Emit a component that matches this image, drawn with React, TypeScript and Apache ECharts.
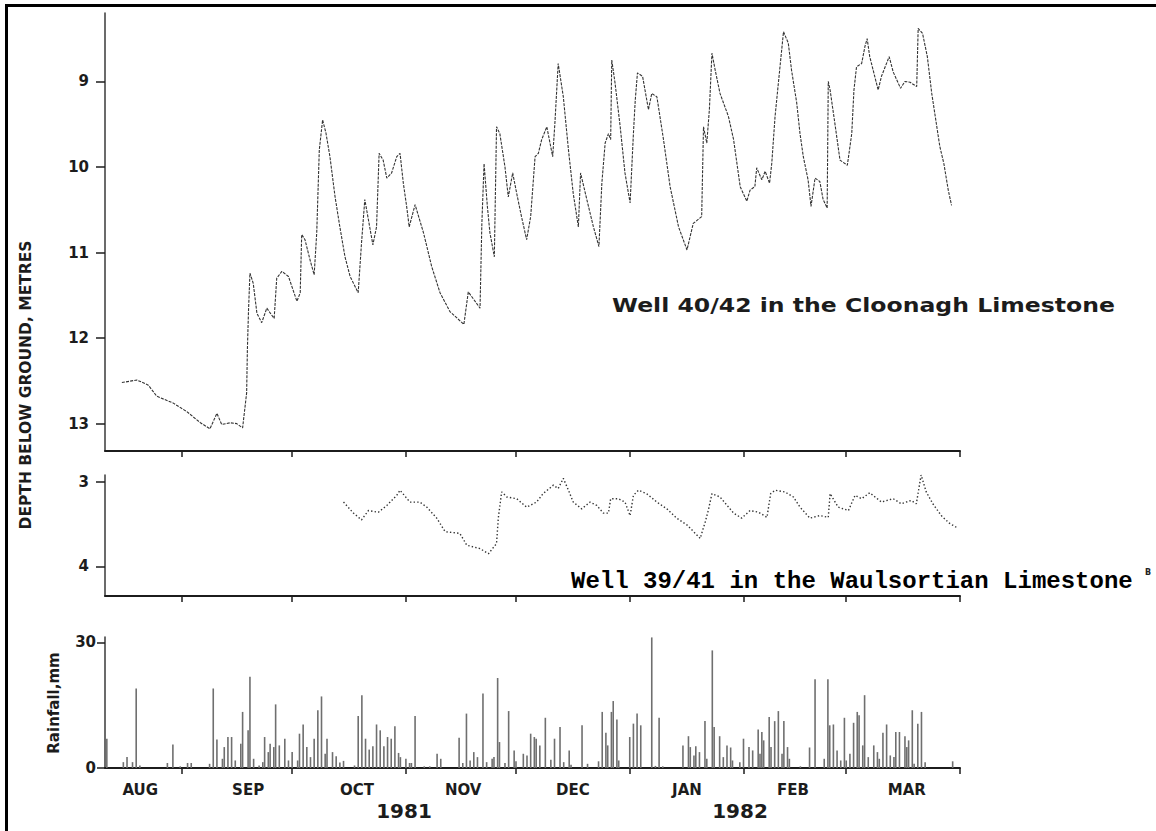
import React, { useEffect, useRef } from "react";
import * as echarts from "echarts";

// x values are days counted from 1 August 1981 (day 31 = 1 Sep 1981, day 153 = 1 Jan 1982)
const monthTicks = [31, 61, 92, 122, 153, 184, 212, 243];
const monthLabelDays = [19.6, 49, 78.7, 107.6, 137.5, 168.6, 197.5, 228.5];
const monthNames = ["AUG", "SEP", "OCT", "NOV", "DEC", "JAN", "FEB", "MAR"];
const yearNames = ["1981", "1982"];

const depthTicksTop = [9, 10, 11, 12, 13];
const depthTicksMid = [3, 4];
const rainTicks = [0, 30];

// Well 40/42 in the Cloonagh Limestone (depth below ground, m)
const well40Days = [
  14.6, 18.7, 21.8, 24.1, 28.6, 32.3, 36.0, 38.6, 40.5, 41.8, 44.1, 45.9, 47.5, 48.6, 48.8, 49.1, 49.5,
  50.4, 51.4, 52.7, 54.1, 55.4, 56.1, 56.8, 58.2, 60.0, 62.3, 63.2, 63.6, 64.5, 65.9, 67.0, 67.7, 68.4,
  69.3, 70.2, 71.3, 72.7, 74.0, 75.4, 76.8, 79.0, 79.9, 80.8, 81.8, 83.0, 84.0, 84.7, 85.8, 86.8, 88.1,
  89.5, 90.4, 91.3, 92.2, 92.9, 94.5, 96.8, 99.0, 101.3, 104.0, 107.8, 109.0, 112.2, 112.7, 113.3, 114.2,
  114.9, 116.1, 116.7, 117.6, 119.0, 119.9, 121.1, 122.2, 123.5, 124.9, 126.0, 127.2, 128.1, 129.0, 130.4,
  132.0, 132.6, 133.5, 134.9, 136.3, 137.6, 139.0, 139.6, 141.3, 143.1, 144.6, 145.4, 146.3, 147.2, 147.8,
  148.1, 149.0, 150.4, 151.7, 153.1, 154.0, 154.5, 155.1, 156.5, 158.1, 159.0, 160.4, 162.2, 164.0, 166.3,
  168.6, 170.3, 172.6, 173.1, 174.0, 174.7, 175.4, 176.3, 177.6, 179.9, 181.3, 183.1, 184.9, 185.8, 187.1,
  187.6, 189.0, 189.9, 191.1, 191.7, 192.6, 193.5, 194.9, 196.2, 197.1, 198.5, 199.4, 200.3, 201.6, 202.4,
  203.5, 204.8, 205.7, 206.8, 207.1, 207.6, 208.9, 210.3, 212.3, 213.5, 214.1, 214.8, 216.2, 217.1, 217.7,
  218.4, 220.7, 221.6, 223.7, 224.8, 226.8, 228.0, 229.4, 231.2, 231.6, 232.8, 234.1, 235.3, 236.4, 237.5,
  238.6, 239.8, 240.7,
];
const well40Depth = [
  12.52, 12.49, 12.55, 12.68, 12.76, 12.86, 12.99, 13.06, 12.88, 13.01, 12.99, 13.0, 13.05, 12.64, 12.14, 11.69, 11.24,
  11.36, 11.71, 11.82, 11.65, 11.73, 11.77, 11.3, 11.22, 11.28, 11.57, 11.47, 10.79, 10.85, 11.09, 11.26, 10.77, 9.8,
  9.45, 9.6, 9.88, 10.35, 10.7, 11.05, 11.28, 11.47, 10.89, 10.38, 10.62, 10.91, 10.7, 9.84, 9.92, 10.13, 10.07,
  9.88, 9.84, 10.19, 10.46, 10.7, 10.44, 10.77, 11.16, 11.47, 11.69, 11.84, 11.46, 11.65, 10.66, 9.96, 10.46,
  10.77, 11.05, 9.53, 9.61, 10.0, 10.35, 10.07, 10.31, 10.58, 10.85, 10.58, 9.88, 9.84, 9.68, 9.53,
  9.88, 9.49, 8.79, 9.18, 9.8, 10.31, 10.7, 10.07, 10.38, 10.7, 10.93, 10.19, 9.72, 9.61, 9.68,
  8.75, 9.02, 9.53, 10.07, 10.42, 9.61, 9.22, 8.9, 8.94, 9.33, 9.14, 9.18, 9.68, 10.23, 10.7,
  10.97, 10.66, 10.58, 9.53, 9.72, 9.33, 8.67, 8.87, 9.14, 9.41, 9.68, 10.23, 10.4, 10.27, 10.23,
  10.01, 10.15, 10.05, 10.19, 9.96, 9.41, 9.02, 8.42, 8.55, 8.87, 9.25, 9.61, 9.88, 10.15, 10.46,
  10.13, 10.17, 10.38, 10.48, 9.0, 9.1, 9.49, 9.92, 9.98, 9.61, 9.1, 8.83, 8.79, 8.59, 8.5,
  8.71, 9.1, 8.94, 8.71, 8.89, 9.08, 9.0, 9.01, 9.06, 8.38, 8.44, 8.71, 9.14, 9.45, 9.76,
  9.96, 10.27, 10.45,
];

// Well 39/41 in the Waulsortian Limestone (depth below ground, m)
const well39Days = [
  75.0, 77.7, 79.9, 81.8, 84.5, 86.8, 89.5, 90.4, 93.1, 95.8, 97.7, 100.4, 102.7, 106.7, 108.6, 112.2, 114.5,
  116.7, 117.2, 118.1, 119.5, 122.2, 124.9, 127.6, 129.4, 132.2, 133.5, 134.9, 136.3, 137.6, 139.9, 142.2,
  144.0, 145.8, 147.2, 147.8, 149.9, 151.7, 153.1, 154.0, 155.4, 157.6, 160.4, 163.1, 165.8, 168.6, 172.2,
  173.6, 174.4, 175.4, 177.6, 181.3, 183.5, 185.8, 188.1, 190.4, 191.4, 192.6, 195.3, 197.6, 199.4, 202.1,
  204.8, 207.1, 207.6, 209.8, 212.6, 214.4, 216.2, 218.4, 221.6, 224.8, 227.0, 229.7, 231.1, 232.4, 233.8,
  235.6, 237.9, 240.1, 242.1,
];
const well39Depth = [
  3.24, 3.37, 3.45, 3.34, 3.36, 3.28, 3.16, 3.1, 3.24, 3.24, 3.3, 3.43, 3.59, 3.61, 3.75, 3.79, 3.85,
  3.73, 3.42, 3.12, 3.18, 3.2, 3.3, 3.24, 3.14, 3.04, 3.08, 2.96, 3.1, 3.24, 3.32, 3.24,
  3.28, 3.37, 3.37, 3.2, 3.2, 3.24, 3.4, 3.16, 3.1, 3.14, 3.24, 3.32, 3.43, 3.51, 3.67,
  3.47, 3.34, 3.14, 3.18, 3.37, 3.43, 3.34, 3.36, 3.42, 3.14, 3.1, 3.12, 3.18, 3.3, 3.43,
  3.4, 3.42, 3.14, 3.3, 3.34, 3.16, 3.2, 3.13, 3.24, 3.2, 3.26, 3.22, 3.26, 2.92, 3.12,
  3.26, 3.4, 3.49, 3.54,
];

// Daily rainfall, mm
const rainDays = [
  10.5, 15, 16, 17.5, 18.5, 19.5, 27, 28.5, 30.5, 32.5, 33.5, 38.5, 39.5, 40.5, 42, 42.5, 43.5, 44.5, 45.5,
  47, 47.5, 49, 49.5, 50.5, 52, 53, 53.5, 54.5, 55, 56, 56.5, 57.5, 59, 60, 61, 62.5, 63, 64, 65, 66, 67, 68,
  69, 70, 70.5, 72, 73, 74, 75, 78, 79, 80, 81, 82, 83, 84, 85, 86, 87, 88, 89, 90, 90.5, 92, 93, 93.5, 94.5,
  97, 98.5, 100.5, 101.5, 106.5, 107.5, 108.5, 109.5, 110.5, 111.5, 113, 114, 115.5, 116, 117, 117.5, 119,
  120, 121.5, 122, 124, 125, 126, 127, 127.5, 128.5, 130, 131.5, 132.5, 134, 135, 136.5, 137, 140, 141.5,
  144.5, 145.5, 146.5, 147, 148, 148.5, 149.5, 150, 153, 154, 155, 156, 159, 160, 161, 162, 167.5, 169,
  169.5, 170.5, 171, 172, 173.5, 174, 175.5, 176, 177.5, 178.5, 179.5, 180.5, 181, 183, 184, 185.5, 186.5,
  188, 188.5, 189, 189.5, 191, 191.5, 192.5, 193.5, 194.5, 195, 196, 196.5, 199.5, 202, 203.5, 206, 207,
  207.5, 208.5, 209.5, 210.5, 211.5, 212, 213, 214, 215, 215.5, 216.5, 217, 218, 219.5, 220.5, 221, 222,
  223, 224, 225, 225.5, 226.5, 228, 228.5, 229, 230, 230.5, 231.5, 232.5, 233.5, 241,
];
const rainMm = [
  7, 1.4, 2.6, 1.4, 19, 0.6, 1.2, 5.6, 0.4, 1.2, 1.2, 1, 19, 6.8, 2.2, 5, 7.4, 7.4, 1.8,
  5.8, 13.4, 9, 21.8, 2.2, 0.6, 1.4, 7.4, 3.8, 5.8, 5, 15.2, 5.4, 7, 1.8, 3.8, 1.8, 8.2, 10.4, 5, 2.6, 7, 13.8,
  17.1, 3.4, 7, 3.8, 2.8, 1.3, 1.7, 0.6, 12.4, 17.4, 7, 4.4, 5.2, 10.4, 9, 5.2, 7.4, 7, 10, 3.6, 2.6, 2.2, 1.2, 1.2, 12.4,
  0.4, 0.4, 3.4, 2.2, 7.2, 1.2, 13, 1.8, 3.8, 2.6, 17.8, 1.4, 2.2, 2.6, 21.5, 6.2, 1.2,
  13.6, 4.2, 1.6, 3.4, 3, 8.2, 7.4, 7, 5.4, 12, 2, 7, 9.8, 1.4, 4.2, 0.8, 10.2, 1,
  1.6, 13.4, 8.4, 5.4, 13.4, 16, 11.6, 1.8, 7.4, 10.6, 13, 10.2, 31.2, 0.5, 12, 0.4, 5.4, 7.6,
  5, 3, 5.2, 3.8, 11.2, 2.2, 28.1, 9.8, 7.6, 2.6, 5.4, 4.9, 1.8, 1.4, 7, 5, 4.2,
  9.2, 3.4, 8.6, 6.6, 12.2, 5, 11.2, 13.6, 3.4, 11.2, 5, 2.2, 0.4, 4.9, 21.2, 2.2, 21.2,
  10.2, 10.4, 4.2, 1.8, 12, 1.8, 3.4, 10.8, 13.4, 12.6, 5.4, 17.4, 2.6, 5.4, 3.8, 2.2, 8.4,
  10.4, 3, 2.6, 8.6, 8.6, 7.6, 5, 6.6, 13.8, 1, 10.6, 13.4, 1.4, 1.6,
];

const zip = (a: number[], b: number[]) => a.map((v, i) => [v, b[i]]);

const INK = "#1c1c1c";
const BOLD = "DejaVu Sans";

export default function App() {
  const ref = useRef<HTMLDivElement>(null);

  useEffect(() => {
    if (!ref.current) return;
    const chart = echarts.init(ref.current, undefined, { renderer: "svg" });

    const xAxisFor = (gridIndex: number) => ({
      type: "value",
      gridIndex,
      min: 10,
      max: 243,
      axisLine: { show: true, onZero: false, lineStyle: { color: INK, width: 2 } },
      axisTick: {
        show: true,
        customValues: monthTicks,
        length: 6,
        lineStyle: { color: INK, width: 1.5 },
      },
      axisLabel: {
        show: gridIndex === 2,
        customValues: monthLabelDays,
        formatter: (v: number) => {
          let best = 0;
          monthLabelDays.forEach((d, i) => {
            if (Math.abs(d - v) < Math.abs(monthLabelDays[best] - v)) best = i;
          });
          return monthNames[best];
        },
        margin: 14,
        fontFamily: BOLD,
        fontWeight: "bold",
        fontSize: 15,
        color: INK,
      },
      splitLine: { show: false },
    });

    const yLabel = (vals: number[], margin: number) => ({
      customValues: vals,
      margin,
      fontFamily: BOLD,
      fontWeight: "bold",
      fontSize: 15,
      color: INK,
    });

    chart.setOption({
      animation: false,
      backgroundColor: "#ffffff",
      grid: [
        { left: 105, right: 196, top: 13, height: 438 },
        { left: 105, right: 196, top: 475, height: 121 },
        { left: 105, right: 196, top: 637, height: 131 },
      ],
      xAxis: [xAxisFor(0), xAxisFor(1), xAxisFor(2)],
      yAxis: [
        {
          type: "value",
          gridIndex: 0,
          inverse: true,
          min: 8.2,
          max: 13.32,
          axisLine: { show: true, lineStyle: { color: "#3a3a3a", width: 1.5 } },
          axisTick: { show: true, customValues: depthTicksTop, length: 9, lineStyle: { color: INK, width: 1.5 } },
          axisLabel: yLabel(depthTicksTop, 16),
          splitLine: { show: false },
        },
        {
          type: "value",
          gridIndex: 1,
          inverse: true,
          min: 2.92,
          max: 4.35,
          axisLine: { show: true, lineStyle: { color: "#3a3a3a", width: 1.5 } },
          axisTick: { show: true, customValues: depthTicksMid, length: 9, lineStyle: { color: INK, width: 1.5 } },
          axisLabel: yLabel(depthTicksMid, 16),
          splitLine: { show: false },
        },
        {
          type: "value",
          gridIndex: 2,
          min: 0,
          max: 31.3,
          axisLine: { show: true, lineStyle: { color: "#3a3a3a", width: 1.5 } },
          axisTick: { show: true, customValues: rainTicks, length: 8, lineStyle: { color: INK, width: 1.5 } },
          axisLabel: yLabel(rainTicks, 9),
          splitLine: { show: false },
        },
      ],
      series: [
        {
          name: "Well 40/42",
          type: "line",
          xAxisIndex: 0,
          yAxisIndex: 0,
          data: zip(well40Days, well40Depth),
          showSymbol: false,
          lineStyle: { color: "#333333", width: 1.1, type: [3, 1.2] },
        },
        {
          name: "Well 39/41",
          type: "line",
          xAxisIndex: 1,
          yAxisIndex: 1,
          data: zip(well39Days, well39Depth),
          showSymbol: false,
          lineStyle: { color: "#333333", width: 1.4, type: [1.4, 2.2] },
        },
        {
          name: "Rainfall",
          type: "bar",
          xAxisIndex: 2,
          yAxisIndex: 2,
          data: zip(rainDays, rainMm),
          barWidth: 1.6,
          itemStyle: { color: "#6f6f6f" },
        },
      ],
      graphic: [
        {
          type: "polyline",
          shape: { points: [[6.5, 831], [6.5, 5.5], [1156, 5.5]] },
          style: { stroke: "#000000", lineWidth: 3, fill: null },
        },
        {
          type: "text",
          x: 26,
          y: 385,
          rotation: Math.PI / 2,
          style: {
            text: "DEPTH BELOW GROUND, METRES",
            fontFamily: BOLD,
            fontWeight: "bold",
            fontSize: 15.5,
            fill: INK,
            align: "center",
            verticalAlign: "middle",
          },
        },
        {
          type: "text",
          x: 54,
          y: 703,
          rotation: Math.PI / 2,
          style: {
            text: "Rainfall,mm",
            fontFamily: BOLD,
            fontWeight: "bold",
            fontSize: 15,
            fill: INK,
            align: "center",
            verticalAlign: "middle",
          },
        },
        {
          type: "text",
          x: 612,
          y: 305,
          scaleX: 1.24,
          style: {
            text: "Well 40/42 in the Cloonagh Limestone",
            fontFamily: BOLD,
            fontWeight: "bold",
            fontSize: 19,
            fill: INK,
            align: "left",
            verticalAlign: "middle",
          },
        },
        {
          type: "text",
          x: 571,
          y: 581,
          style: {
            text: "Well 39/41 in the Waulsortian Limestone",
            fontFamily: "'Courier New', 'Liberation Mono', monospace",
            fontWeight: "bold",
            fontSize: 24,
            fill: "#000000",
            align: "left",
            verticalAlign: "middle",
          },
        },
        {
          type: "text",
          x: 1148,
          y: 572,
          style: {
            text: "B",
            fontFamily: BOLD,
            fontWeight: "bold",
            fontSize: 8,
            fill: "#222222",
            align: "center",
            verticalAlign: "middle",
          },
        },
        {
          type: "text",
          x: 404,
          y: 811,
          style: {
            text: yearNames[0],
            fontFamily: BOLD,
            fontWeight: "bold",
            fontSize: 20,
            fill: INK,
            align: "center",
            verticalAlign: "middle",
          },
        },
        {
          type: "text",
          x: 740,
          y: 811,
          style: {
            text: yearNames[1],
            fontFamily: BOLD,
            fontWeight: "bold",
            fontSize: 20,
            fill: INK,
            align: "center",
            verticalAlign: "middle",
          },
        },
      ],
    });

    return () => chart.dispose();
  }, []);

  return (
    <div
      ref={ref}
      style={{ position: "fixed", left: 0, top: 0, width: 1156, height: 831, background: "#ffffff" }}
    />
  );
}
